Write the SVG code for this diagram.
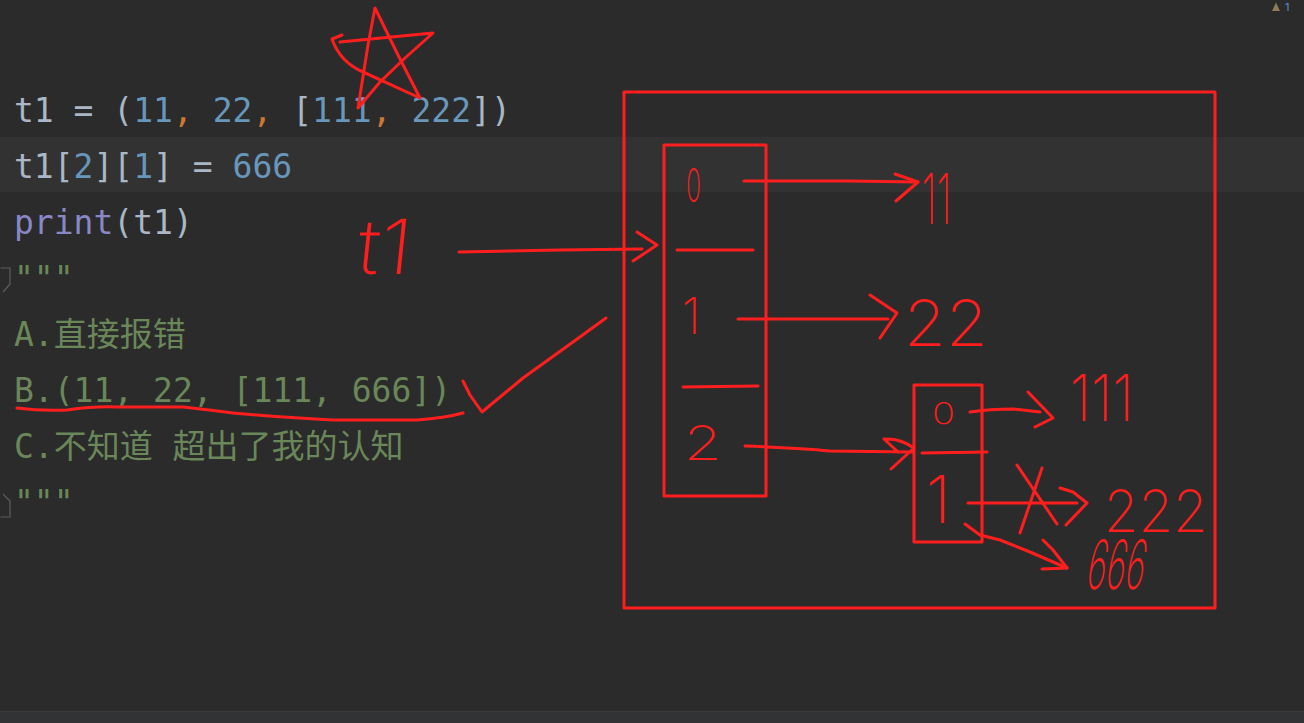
<svg xmlns="http://www.w3.org/2000/svg" width="1304" height="723" viewBox="0 0 1304 723">
<style>
.code{font-family:"DejaVu Sans Mono","Noto Sans CJK SC",monospace;font-size:33px;}
.d{fill:#a9b7c6}.n{fill:#6897bb}.c{fill:#cc7832}.p{fill:#8888c6}.s{fill:#6a8759}
.ink{fill:none;stroke:#ff1e1e;stroke-width:3;stroke-linecap:round;stroke-linejoin:round}
.hw{font-family:Inter,"Liberation Sans",sans-serif;font-weight:200;fill:#ff1e1e}
.fold{fill:none;stroke:#5a5d60;stroke-width:1.2}
</style>
<rect width="1304" height="723" fill="#2b2b2b"/>
<rect x="0" y="137" width="1304" height="55" fill="#323232"/>
<rect x="0" y="712" width="1304" height="11" fill="#313335"/>
<line x1="0" y1="711.5" x2="1304" y2="711.5" stroke="#3a3c3e"/>
<g id="status">
<path d="M1272,11 L1276,2.5 L1280,11 Z" fill="#8c7c5a"/>
<text x="1285" y="11" font-family="Inter,'Liberation Sans',sans-serif" font-size="11" fill="#5a8fd0">1</text>
</g>
<g id="gutter">
<path class="fold" d="M0.5,268 H10 V284 L3,292"/>
<path class="fold" d="M3,494 L10,501 V517 H0.5"/>
</g>
<g id="code" class="code" xml:space="preserve">
<text x="14" y="122"><tspan class="d">t1 = (</tspan><tspan class="n">11</tspan><tspan class="c">,</tspan><tspan class="d"> </tspan><tspan class="n">22</tspan><tspan class="c">,</tspan><tspan class="d"> [</tspan><tspan class="n">111</tspan><tspan class="c">,</tspan><tspan class="d"> </tspan><tspan class="n">222</tspan><tspan class="d">])</tspan></text>
<text x="14" y="178"><tspan class="d">t1[</tspan><tspan class="n">2</tspan><tspan class="d">][</tspan><tspan class="n">1</tspan><tspan class="d">] = </tspan><tspan class="n">666</tspan></text>
<text x="14" y="234"><tspan class="p">print</tspan><tspan class="d">(t1)</tspan></text>
<text x="14" y="290" class="s">"""</text>
<text x="14" y="346" class="s">A.直接报错</text>
<text x="14" y="402" class="s">B.(11, 22, [111, 666])</text>
<text x="14" y="458" class="s">C.不知道 超出了我的认知</text>
<text x="14" y="514" class="s">"""</text>
</g>
<g id="star">
<path class="ink" d="M342,35 L332,39 Q340,62 363,72 L420,98 L398,55 L375,8 L368,45 L358,108 L380,82 L405,58 L433,33 L340,42"/>
</g>
<g id="answer-mark">
<path class="ink" d="M17,408 Q40,411 67,410 Q95,406 117,407 L183,407 Q210,410 233,413 Q290,418 333,420 L417,420 Q445,418 463,413"/>
<path class="ink" d="M463,381 L470,395 L482,412 L523,378 L573,342 L606,318"/>
</g>
<g id="outer-box">
<rect class="ink" x="624" y="92" width="591" height="516"/>
</g>
<g id="label-t1">
<text class="hw" x="356" y="274" font-size="76" textLength="54" lengthAdjust="spacingAndGlyphs" transform="skewX(-6) translate(28,0)">t1</text>
</g>
<g id="tuple-box">
<rect class="ink" x="664" y="145" width="102" height="351"/>
<line class="ink" x1="677" y1="250" x2="753" y2="250"/>
<line class="ink" x1="683" y1="387" x2="758" y2="386"/>
<text class="hw" x="686" y="202" font-size="46" textLength="15" lengthAdjust="spacingAndGlyphs">0</text>
<text class="hw" x="682" y="334" font-size="50">1</text>
<text class="hw" x="684" y="460" font-size="48" textLength="38" lengthAdjust="spacingAndGlyphs">2</text>
</g>
<g id="list-box">
<rect class="ink" x="914" y="385" width="68" height="157"/>
<line class="ink" x1="922" y1="453" x2="987" y2="452"/>
<text class="hw" x="932" y="424" font-size="30" textLength="23" lengthAdjust="spacingAndGlyphs">0</text>
<text class="hw" x="926" y="523" font-size="66">1</text>
</g>
<g id="values">
<text class="hw" x="922" y="224" font-size="70" textLength="30" lengthAdjust="spacingAndGlyphs">11</text>
<text class="hw" x="904" y="346" font-size="64" textLength="84" lengthAdjust="spacingAndGlyphs">22</text>
<text class="hw" x="1070" y="421" font-size="64" textLength="64" lengthAdjust="spacingAndGlyphs">111</text>
<text class="hw" x="1104" y="532" font-size="58" textLength="104" lengthAdjust="spacingAndGlyphs">222</text>
<text class="hw" x="1084" y="589" font-size="68" textLength="58" lengthAdjust="spacingAndGlyphs" transform="skewX(-10) translate(104,0)">666</text>
</g>
<g id="connectors">
<path class="ink" d="M459,252 L560,250 L642,249"/>
<path class="ink" d="M637,232 L657,245 L633,261"/>
<path class="ink" d="M744,181 L850,181 L918,182"/>
<path class="ink" d="M895,174 L918,182 L896,201"/>
<path class="ink" d="M738,319 L840,319 L888,319"/>
<path class="ink" d="M870,295 L897,313 L880,338"/>
<path class="ink" d="M745,446 Q800,448 830,451 L912,452"/>
<path class="ink" d="M884,439 Q900,438 914,448 L891,469 M884,439 L898,452"/>
<path class="ink" d="M970,412 Q990,409 1013,409 L1040,412"/>
<path class="ink" d="M1028,392 L1053,418 L1035,427"/>
<path class="ink" d="M968,503 L1077,503"/>
<path class="ink" d="M1060,488 L1073,492 L1087,503 L1066,525"/>
<path class="ink" d="M1017,465 L1057,524 M1042,468 L1020,533"/>
<path class="ink" d="M965,524 L980,535 L1000,540 L1030,552 L1067,568"/>
<path class="ink" d="M1043,540 L1053,550 L1067,568 L1042,569"/>
</g>
</svg>
